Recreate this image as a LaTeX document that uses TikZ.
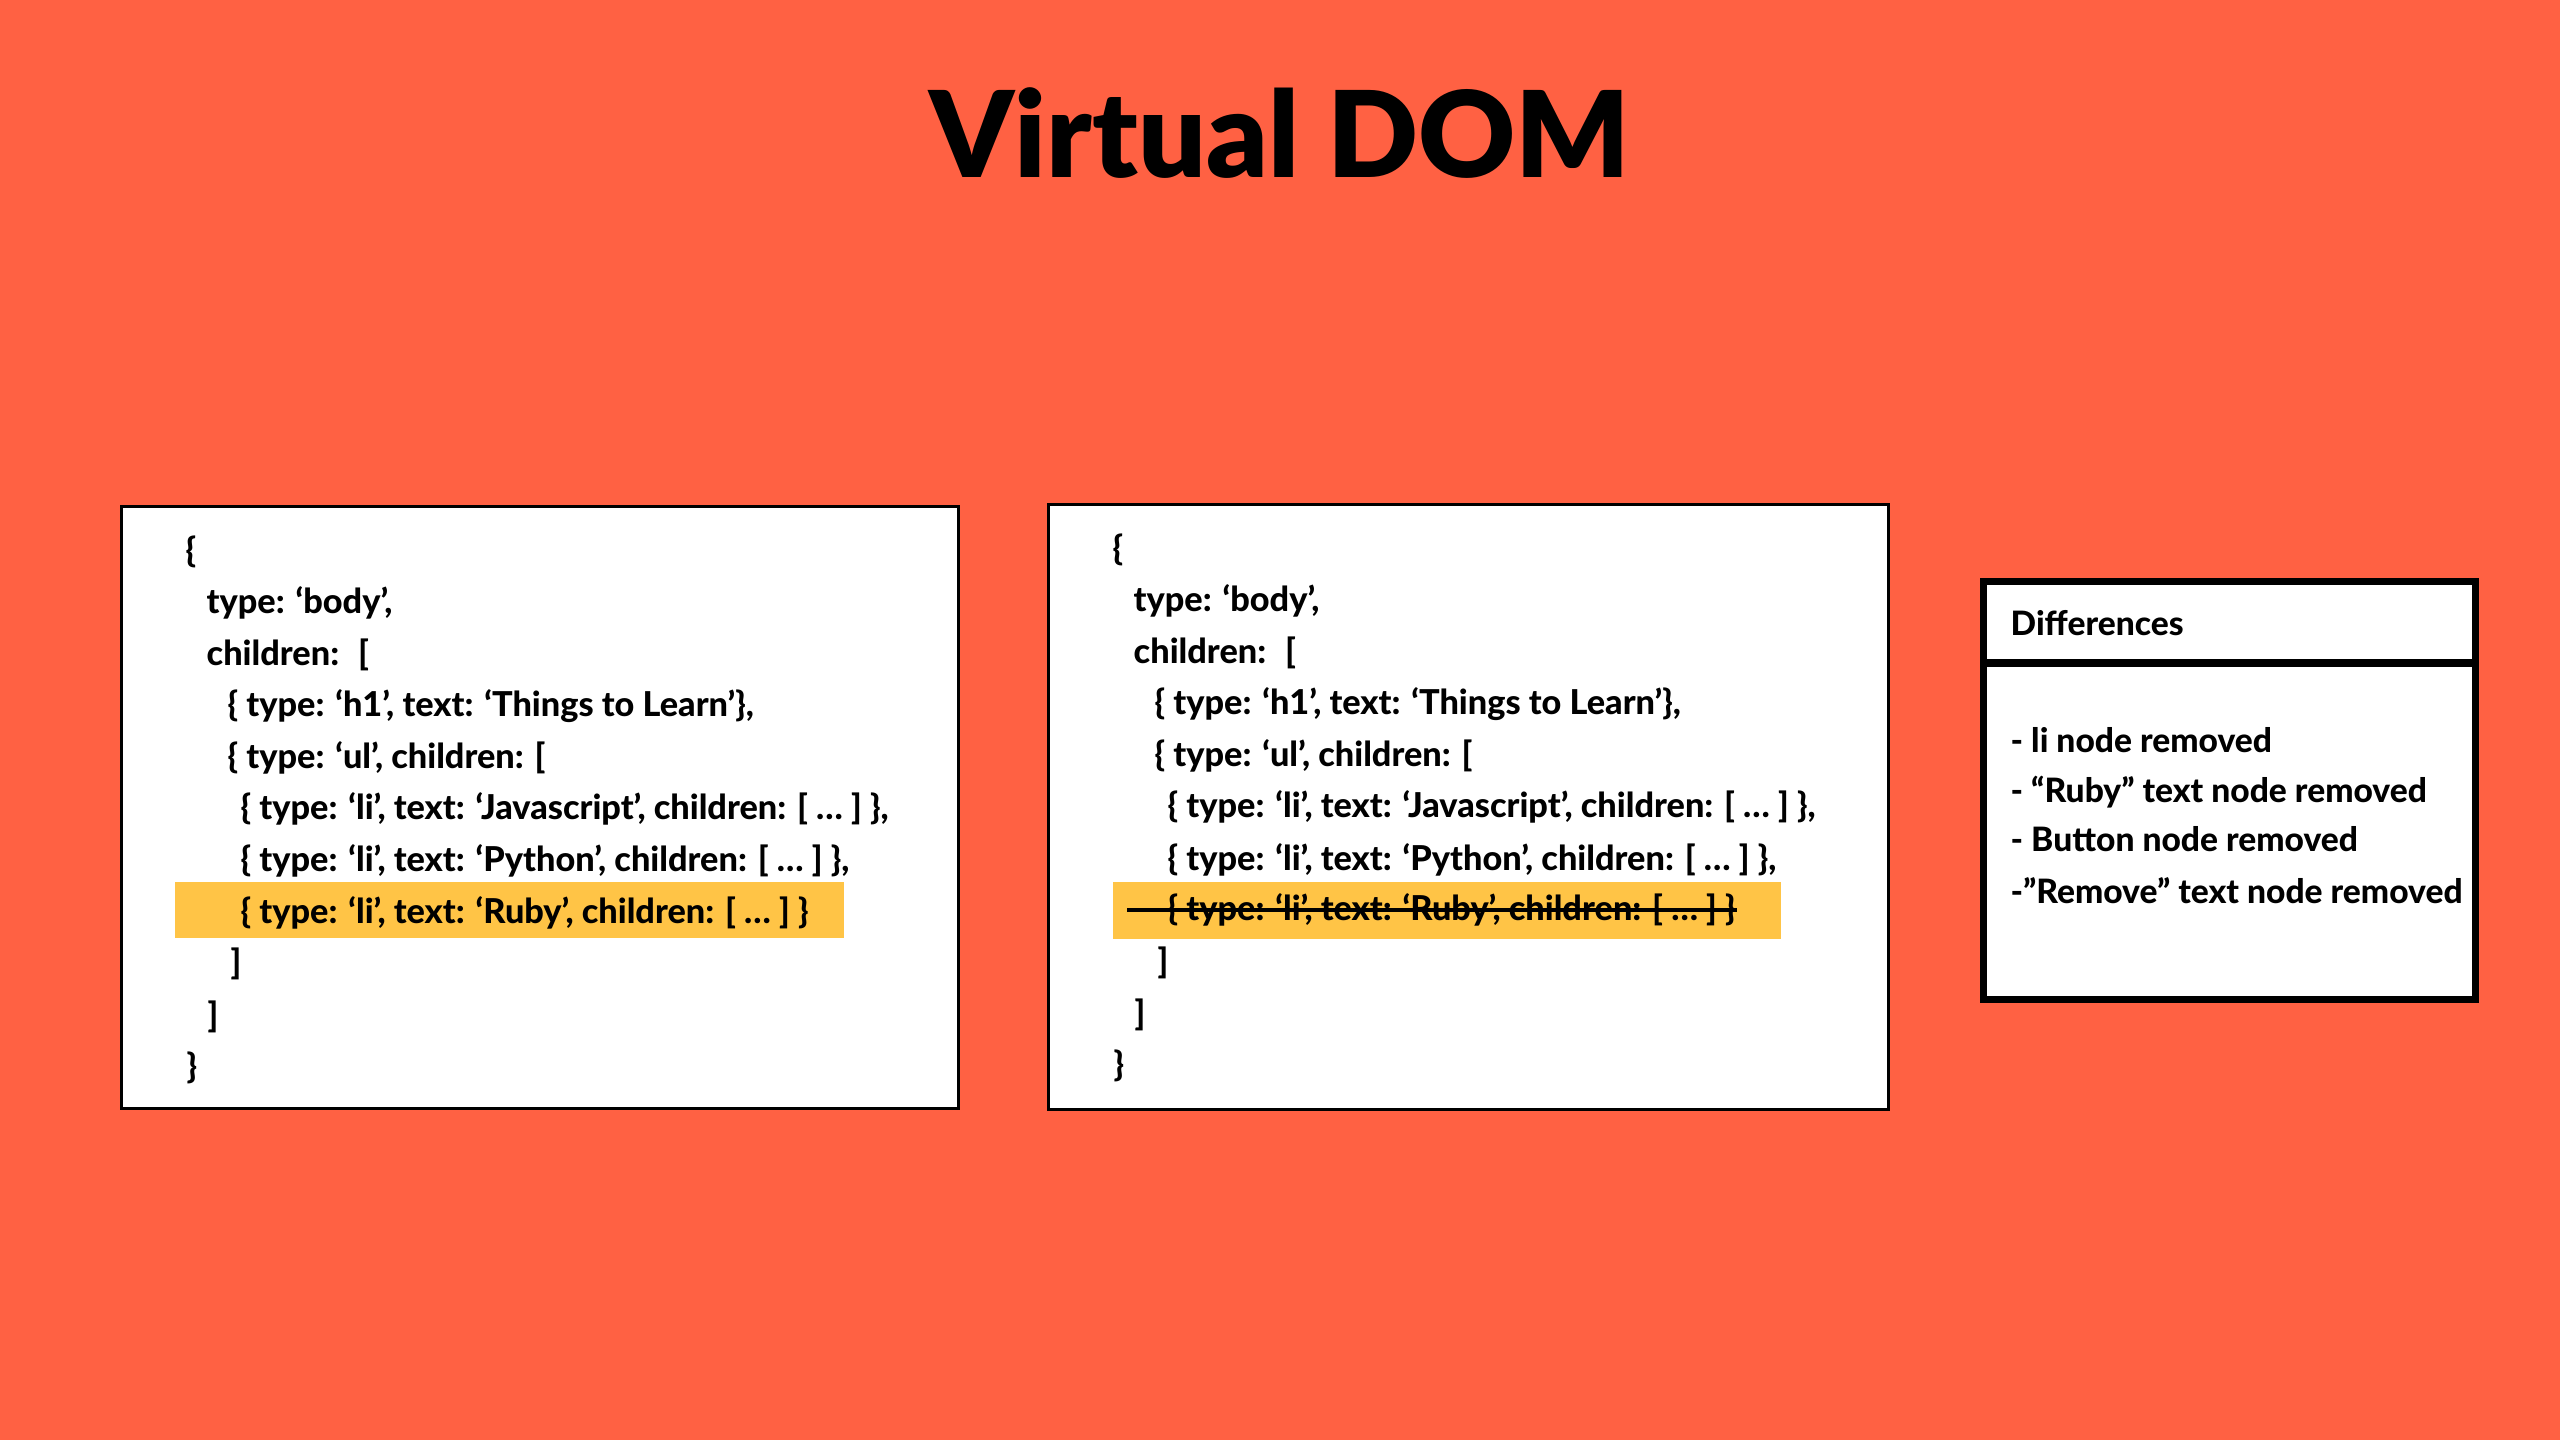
\documentclass[tikz,border=0pt]{standalone}
\usepackage{fontspec}
\setmainfont{Lato}
\IfFontExistsTF{Lato Heavy}{\newfontfamily\codefont{Lato Heavy}}{\newfontfamily\codefont{Lato}[UprightFont=*-Bold]}
\IfFontExistsTF{Lato Black}{\newfontfamily\titlefont{Lato Black}}{\newfontfamily\titlefont{Lato}[UprightFont=*-Bold]}
\definecolor{bg}{RGB}{255,97,67}
\definecolor{hl}{RGB}{255,196,70}
\tikzset{
  px/.style={x=0.01cm,y=-0.01cm},
  codebox/.style={draw=black,fill=white,line width=1pt,inner sep=0pt,minimum width=#1},
  diffbox/.style={draw=black,fill=white,line width=2pt,inner sep=0pt},
  code/.style={anchor=base west,inner sep=0pt,font=\fontsize{9.75}{11}\selectfont\codefont},
  difftext/.style={anchor=base west,inner sep=0pt,font=\fontsize{9.55}{11}\selectfont\codefont},
  hlbar/.style={fill=hl,draw=none,inner sep=0pt},
  title/.style={anchor=base,inner sep=0pt,font=\fontsize{34}{40}\selectfont\titlefont}
}
\newcommand\codeblock[3]{%
  \begin{scope}[shift={(#2,#3)}]
  \node[code] (#1l1) at (185,563) {\{};
  \node[code] (#1l2) at (206,614) {type: ‘body’,};
  \node[code] (#1l3) at (206,666) {children:\hspace{0.55em}[};
  \node[code] (#1l4) at (227,717) {\{ type: ‘h1’, text: ‘Things to Learn’\},};
  \node[code] (#1l5) at (227,769) {\{ type: ‘ul’, children: [};
  \node[code] (#1l6) at (240,820) {\{ type: ‘li’, text: ‘Javascript’, children: [ … ] \},};
  \node[code] (#1l7) at (240,872) {\{ type: ‘li’, text: ‘Python’, children: [ … ] \},};
  \node[code] (#1l8) at (240,923) {\{ type: ‘li’, text: ‘Ruby’, children: [ … ] \}};
  \node[code] (#1l9) at (230,975) {]};
  \node[code] (#1l10) at (207,1027) {]};
  \node[code] (#1l11) at (186,1078) {\}};
  \end{scope}}
\begin{document}
\begin{tikzpicture}[px]
\fill[bg] (0,0) rectangle (2560,1440);
\useasboundingbox (0,0) rectangle (2560,1440);
\node[title] (title) at (1280,178) {Virtual DOM};
% left box
\node[codebox=8.365cm,minimum height=6.015cm] (oldbox) at (540,807.5) {};
\node[hlbar,minimum width=6.69cm,minimum height=0.56cm] (oldhl) at (509.5,910) {};
\codeblock{old}{0}{0}
% middle box
\node[codebox=8.395cm,minimum height=6.045cm] (newbox) at (1468.5,807) {};
\node[hlbar,minimum width=6.68cm,minimum height=0.57cm] (newhl) at (1447,910.5) {};
\codeblock{new}{927}{-2}
\coordinate (s1) at (1127,910);
\coordinate (s2) at (1737,910);
\draw[line width=1.3pt] (s1) -- (s2);
% differences
\node[diffbox,minimum width=4.92cm,minimum height=4.18cm] (diff) at (2229.5,790.5) {};
\coordinate (d1) at (1983.5,663);
\coordinate (d2) at (2475.5,663);
\draw[line width=2pt] (d1) -- (d2);
\node[difftext] (dh) at (2010,636) {Differences};
\node[difftext] (di1) at (2010,753) {- li node removed};
\node[difftext] (di2) at (2010,803) {- “Ruby” text node removed};
\node[difftext] (di3) at (2010,852) {- Button node removed};
\node[difftext] (di4) at (2010,903) {-”Remove” text node removed};
\end{tikzpicture}
\end{document}
